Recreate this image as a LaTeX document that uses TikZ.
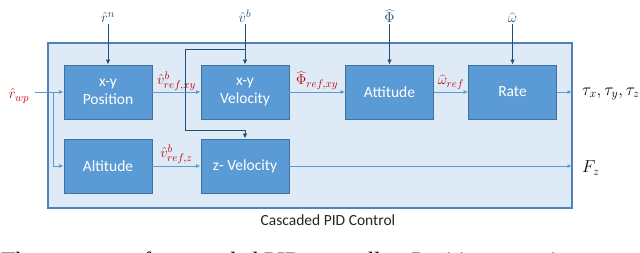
\documentclass[tikz,border=0pt]{standalone}
\usepackage{fontspec}
\setsansfont{Carlito}
\newfontfamily\capfont{Liberation Serif}
\usetikzlibrary{arrows.meta}
\definecolor{outerfill}{HTML}{DEEBF7}
\definecolor{outerline}{HTML}{5282BE}
\definecolor{blkfill}{HTML}{5B9BD5}
\definecolor{blkline}{HTML}{41719C}
\definecolor{lightcon}{HTML}{5B9BD5}
\definecolor{darkcon}{HTML}{1F4E79}
\definecolor{lblred}{HTML}{C00000}
\begin{document}
\begin{tikzpicture}[x=1pt,y=-1pt,
  blk/.style={draw=blkline, line width=0.8pt, fill=blkfill, minimum width=88pt, minimum height=54pt,
    text=white, font=\sffamily\fontsize{15.5}{18}\selectfont, align=center, inner sep=0pt},
  lcon/.style={draw=lightcon, line width=0.8pt, -{Latex[length=4.5pt,width=4pt]}},
  dcon/.style={draw=darkcon, line width=1pt, -{Latex[length=5pt,width=4.5pt]}},
  dline/.style={draw=darkcon, line width=1pt},
  inlbl/.style={text=darkcon, font=\fontsize{15}{18}\selectfont, inner sep=1pt},
  redlbl/.style={text=lblred, font=\fontsize{15}{18}\selectfont, inner sep=0pt},
  outlbl/.style={text=black, font=\fontsize{16.5}{19}\selectfont, inner sep=0pt, anchor=west}]
\useasboundingbox (0,0) rectangle (640,252);
\clip (0,0) rectangle (640,252);
\fill[white] (0,0) rectangle (640,252);
% outer frame
\node[draw=outerline, line width=1.5pt, fill=outerfill, minimum width=524pt, minimum height=165pt, inner sep=0pt] (frame) at (310,125.5) {};
% blocks
\node[blk] (pos) at (108,92) {x-y\\Position};
\node[blk] (vel) at (245,92) {x-y\\Velocity};
\node[blk] (att) at (389.5,92) {Attitude};
\node[blk] (rate) at (512.5,92) {Rate};
\node[blk] (alt) at (108,166) {Altitude};
\node[blk] (zvel) at (245,166) {z- Velocity};
% top inputs
\node[inlbl, anchor=south] (rn) at (108,24) {$\hat{r}^{n}$};
\node[inlbl, anchor=south] (vb) at (245,24) {$\hat{v}^{b}$};
\node[inlbl, anchor=south] (phi) at (389.5,24) {$\widehat{\Phi}$};
\node[inlbl, anchor=south] (om) at (512.5,24) {$\widehat{\omega}$};
\draw[dcon] (rn.south) -- (pos.north);
\draw[dcon] (vb.south) -- (vel.north);
\draw[dcon] (phi.south) -- (att.north);
\draw[dcon] (om.south) -- (rate.north);
% loop of v^b to z-velocity
\coordinate (vsplit) at (245,49);
\coordinate (loopc) at (185,130);
\draw[dline] (vsplit) -| (loopc);
\draw[dcon] (loopc) -| (zvel.north);
% r_wp input
\node[redlbl, anchor=center] (rwp) at (19,96) {$\hat{r}_{wp}$};
\coordinate (wpin) at (35,92);
\coordinate (wpsplit) at (53,92);
\draw[lcon] (wpin) -- (pos.west);
\draw[lcon] (wpsplit) |- (alt.west);
% block connections
\draw[lcon] (pos.east) -- node[redlbl, anchor=south, yshift=1pt] (l1) {$\hat{v}^{b}_{ref,xy}$} (vel.west);
\draw[lcon] (vel.east) -- node[redlbl, anchor=south, yshift=2pt] (l2) {$\widehat{\Phi}_{ref,xy}$} (att.west);
\draw[lcon] (att.east) -- node[redlbl, anchor=south, yshift=2pt] (l3) {$\widehat{\omega}_{ref}$} (rate.west);
\draw[lcon] (alt.east) -- node[redlbl, anchor=south, yshift=2pt] (l4) {$\hat{v}^{b}_{ref,z}$} (zvel.west);
% outputs
\coordinate (tauend) at (572,92);
\coordinate (fzend) at (572,166);
\draw[lcon] (rate.east) -- (tauend);
\draw[lcon] (zvel.east) -- (fzend);
\node[outlbl] (tau) at (582,94) {$\tau_x,\tau_y,\tau_z$};
\node[outlbl] (fz) at (582,168) {$F_z$};
% frame title
\node[text=black!85, font=\sffamily\fontsize{15.5}{18}\selectfont, inner sep=0pt] (title) at (328,220) {Cascaded PID Control};
% clipped caption
\node[anchor=base west, inner sep=0pt, font=\capfont\fontsize{23.5}{26}\selectfont] (cap) at (1,268) {The structure of a cascaded PID controller. Positions are given};
\end{tikzpicture}
\end{document}
